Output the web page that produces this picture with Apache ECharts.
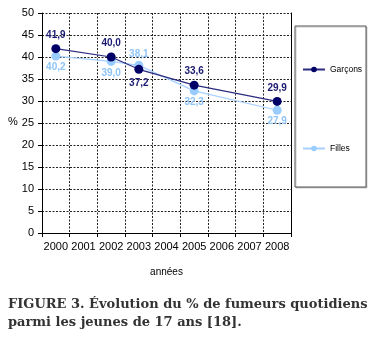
<!DOCTYPE html>
<html><head><meta charset="utf-8">
<script src="https://cdn.jsdelivr.net/npm/echarts@6/dist/echarts.min.js"></script>
<style>html,body{margin:0;padding:0;background:#fff}#c{width:391px;height:345px}</style>
</head><body><div id="c"></div>
<script>
const years = ['2000','2001','2002','2003','2004','2005','2006','2007','2008'];
const garcons = [41.9, null, 40.0, 37.2, null, 33.6, null, null, 29.9];
const filles = [40.2, null, 39.0, 38.1, null, 32.3, null, null, 27.9];
const garconsLabelPos = ['top', null, 'top', 'bottom', null, 'top', null, null, 'top'];
const fillesLabelPos = ['bottom', null, 'bottom', 'top', null, 'bottom', null, null, 'bottom'];
const yTicks = [0, 5, 10, 15, 20, 25, 30, 35, 40, 45, 50];

const fmt = p => p.value == null ? '' : p.value.toFixed(1).replace('.', ',');
function mk(vals, pos) {
  return vals.map((v, i) => v == null ? null : { value: v, label: { position: pos[i] } });
}
const gridStyle = { color: '#222', width: 1, type: [2, 1.5] };
const chart = echarts.init(document.getElementById('c'), null, { renderer: 'canvas' });
chart.setOption({
  animation: false,
  grid: { left: 42, right: 100, top: 13, bottom: 112 },
  xAxis: {
    type: 'category', data: years, boundaryGap: true,
    axisLine: { lineStyle: { color: '#000', width: 1 } },
    axisTick: { show: true, length: 4, interval: 0, lineStyle: { color: '#000' } },
    axisLabel: { color: '#000', fontSize: 11, fontFamily: 'Liberation Sans', margin: 8, interval: 0 },
    splitLine: { show: true, interval: 0, lineStyle: gridStyle },
    name: 'années', nameLocation: 'middle', nameGap: 34,
    nameTextStyle: { color: '#000', fontSize: 10, fontFamily: 'Liberation Sans' }
  },
  yAxis: [{
    type: 'value', min: yTicks[0], max: yTicks[yTicks.length - 1], interval: 5,
    axisLine: { show: true, lineStyle: { color: '#000', width: 1 } },
    axisTick: { show: true, length: 4, lineStyle: { color: '#000' } },
    axisLabel: { color: '#000', fontSize: 11, fontFamily: 'Liberation Sans', margin: 8 },
    splitLine: { show: true, lineStyle: gridStyle }
  }, {
    type: 'value', position: 'right', min: yTicks[0], max: yTicks[yTicks.length - 1], interval: 5,
    axisLine: { show: true, lineStyle: { color: '#000', width: 1 } },
    axisTick: { show: false }, axisLabel: { show: false }, splitLine: { show: false }
  }],
  legend: {
    orient: 'vertical', left: 297, top: 60, itemGap: 70, z: 10,
    itemWidth: 22, itemHeight: 7,
    textStyle: { fontSize: 8.5, color: '#000', fontFamily: 'Liberation Sans' },
    data: ['Garçons', 'Filles']
  },
  graphic: [
    { type: 'rect', z: 1, shape: { x: 295, y: 26, width: 71, height: 161 },
      style: { fill: '#fff', stroke: '#555', lineWidth: 1, shadowColor: 'rgba(0,0,0,0.2)', shadowOffsetX: 1, shadowOffsetY: 1, shadowBlur: 0 } },
    { type: 'text', left: 8, top: 116, style: { text: '%', fontSize: 11, fill: '#000', fontFamily: 'Liberation Sans' } },
    { type: 'text', left: 8, top: 296, style: {
        text: 'FIGURE 3. Évolution du % de fumeurs quotidiens\nparmi les jeunes de 17 ans [18].',
        font: 'bold 13px "DejaVu Serif"', lineHeight: 18, fill: '#333' } }
  ],
  series: [{
    name: 'Garçons', type: 'line', connectNulls: true,
    data: mk(garcons, garconsLabelPos),
    symbol: 'circle', symbolSize: 9,
    lineStyle: { color: '#2b2b80', width: 1.2 },
    itemStyle: { color: '#000066' },
    label: { show: true, formatter: fmt, fontSize: 10, fontWeight: 'bold', color: '#1a1a70', distance: 4, fontFamily: 'Liberation Sans' },
    z: 3
  }, {
    name: 'Filles', type: 'line', connectNulls: true,
    data: mk(filles, fillesLabelPos),
    symbol: 'circle', symbolSize: 9,
    lineStyle: { color: '#a6d0ff', width: 1.2 },
    itemStyle: { color: '#99ccff' },
    label: { show: true, formatter: fmt, fontSize: 10, fontWeight: 'bold', color: '#8fc4f7', distance: 2, fontFamily: 'Liberation Sans' },
    z: 2
  }]
});
</script></body></html>
